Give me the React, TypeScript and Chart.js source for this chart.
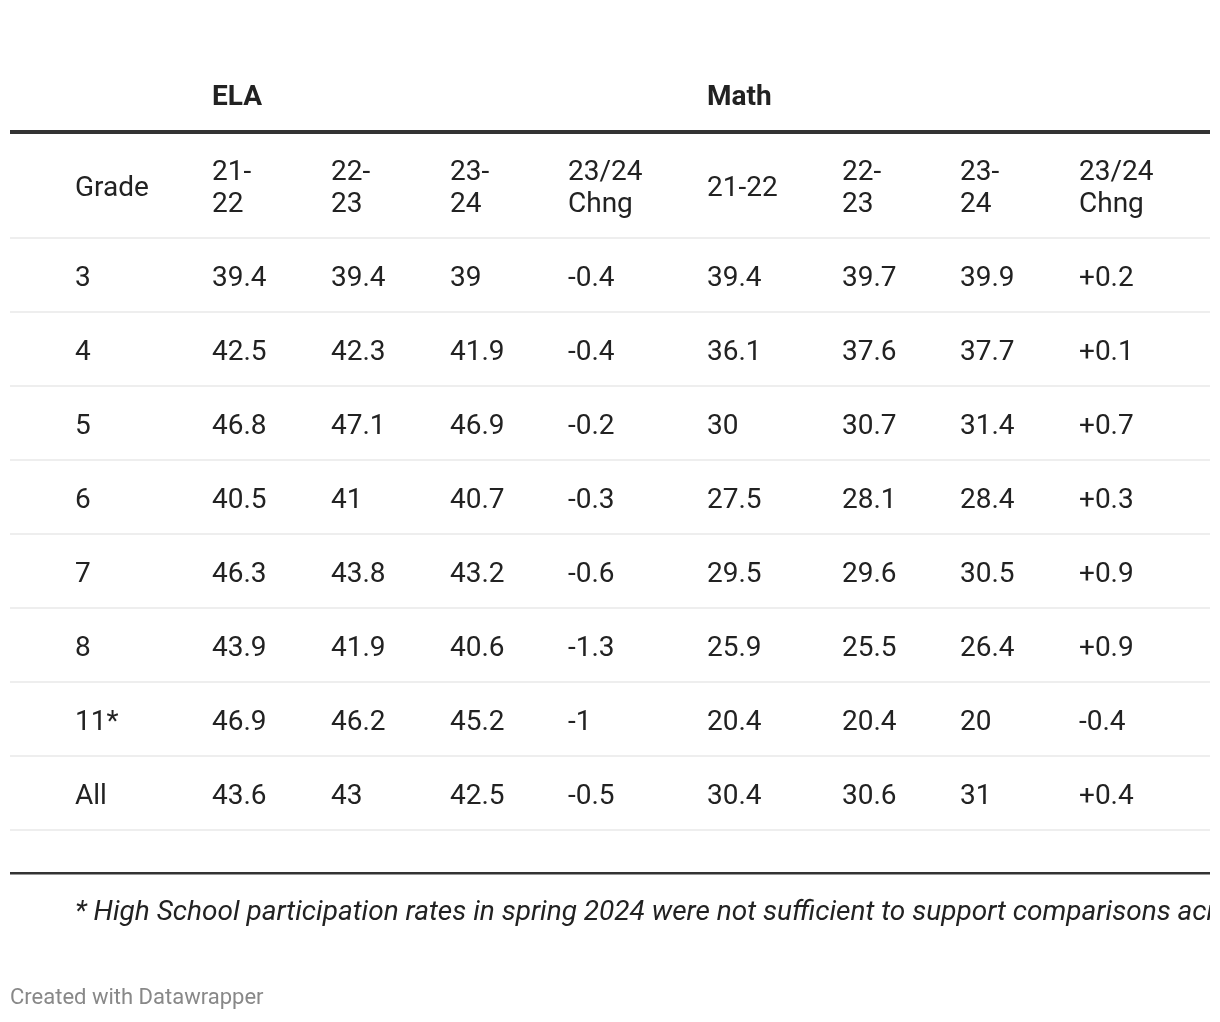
import React, { useEffect, useRef } from "react";
import { Chart, registerables } from "chart.js";

Chart.register(...registerables);

// ---- data ----
const grades = ["3", "4", "5", "6", "7", "8", "11*", "All"];
const ela2122 = [39.4, 42.5, 46.8, 40.5, 46.3, 43.9, 46.9, 43.6];
const ela2223 = [39.4, 42.3, 47.1, 41, 43.8, 41.9, 46.2, 43];
const ela2324 = [39, 41.9, 46.9, 40.7, 43.2, 40.6, 45.2, 42.5];
const elaChange = [-0.4, -0.4, -0.2, -0.3, -0.6, -1.3, -1, -0.5];
const math2122 = [39.4, 36.1, 30, 27.5, 29.5, 25.9, 20.4, 30.4];
const math2223 = [39.7, 37.6, 30.7, 28.1, 29.6, 25.5, 20.4, 30.6];
const math2324 = [39.9, 37.7, 31.4, 28.4, 30.5, 26.4, 20, 31];
const mathChange = [0.2, 0.1, 0.7, 0.3, 0.9, 0.9, -0.4, 0.4];

const columnHeaders: string[][] = [
  ["Grade"],
  ["21-", "22"],
  ["22-", "23"],
  ["23-", "24"],
  ["23/24", "Chng"],
  ["21-22"],
  ["22-", "23"],
  ["23-", "24"],
  ["23/24", "Chng"],
];
const groupTitles = [
  { text: "ELA", col: 1 },
  { text: "Math", col: 5 },
];
const footnote =
  "* High School participation rates in spring 2024 were not sufficient to support comparisons across years.";
const credit = "Created with Datawrapper";

// ---- layout (scale units along the x axis, 0..1200) ----
const COL_X = [65, 202, 321, 440, 558, 697, 832, 950, 1069];

const fmt = (v: number) => String(v);
const fmtChange = (v: number) => (v > 0 ? "+" + v : String(v));

const columns: string[][] = [
  grades,
  ela2122.map(fmt),
  ela2223.map(fmt),
  ela2324.map(fmt),
  elaChange.map(fmtChange),
  math2122.map(fmt),
  math2223.map(fmt),
  math2324.map(fmt),
  mathChange.map(fmtChange),
];

const TEXT = "#222222";
const FONT = "Roboto, 'Noto Sans', sans-serif";

const tablePlugin = {
  id: "tablePlugin",
  afterDatasetsDraw(chart: any) {
    const ctx: CanvasRenderingContext2D = chart.ctx;
    const { top, bottom, left, right } = chart.chartArea;
    const xs = chart.scales.x;
    ctx.save();
    // cells
    ctx.fillStyle = TEXT;
    ctx.font = `400 28px ${FONT}`;
    ctx.textAlign = "left";
    ctx.textBaseline = "alphabetic";
    chart.data.datasets.forEach((ds: any, di: number) => {
      const meta = chart.getDatasetMeta(di);
      meta.data.forEach((el: any, i: number) => {
        ctx.fillText(ds.cellText[i], el.x, el.y + 11);
      });
    });
    // header row
    const headerCenter = top - 53;
    columnHeaders.forEach((lines, c) => {
      const x = xs.getPixelForValue(COL_X[c]);
      const n = lines.length;
      lines.forEach((t, k) => {
        const y = headerCenter + 11 + (k - (n - 1) / 2) * 32;
        ctx.fillText(t, x, y);
      });
    });
    // group titles
    ctx.font = `700 28px ${FONT}`;
    groupTitles.forEach((g) => {
      ctx.fillText(g.text, xs.getPixelForValue(COL_X[g.col]), top - 133);
    });
    // thick rules
    ctx.fillStyle = "#333333";
    ctx.fillRect(left, top - 108, right - left, 4);
    ctx.fillRect(left, bottom + 42, right - left, 2.5);
    // footnote
    ctx.save();
    ctx.beginPath();
    ctx.rect(0, bottom + 50, right, 60);
    ctx.clip();
    ctx.fillStyle = TEXT;
    ctx.font = `italic 400 28px ${FONT}`;
    ctx.fillText(footnote, xs.getPixelForValue(COL_X[0]), bottom + 90);
    ctx.restore();
    // credit
    ctx.fillStyle = "#888888";
    ctx.font = `400 22px ${FONT}`;
    ctx.fillText(credit, left, bottom + 174);
    ctx.restore();
  },
};

export default function App() {
  const ref = useRef<HTMLCanvasElement | null>(null);
  useEffect(() => {
    document.body.style.margin = "0";
    const canvas = ref.current;
    if (!canvas) return;
    const datasets = columns.map((col, c) => ({
      label: columnHeaders[c].join(" "),
      data: col.map((_, i) => ({ x: COL_X[c], y: i + 0.5 })),
      cellText: col,
      pointRadius: 0,
      pointHoverRadius: 0,
      showLine: false,
    }));
    const chart = new Chart(canvas, {
      type: "scatter",
      data: { datasets: datasets as any },
      options: {
        animation: false,
        responsive: false,
        devicePixelRatio: 1,
        events: [],
        layout: { padding: { top: 238, bottom: 192, left: 10, right: 10 } },
        plugins: { legend: { display: false }, tooltip: { enabled: false } },
        scales: {
          x: { type: "linear", min: 0, max: 1200, display: false },
          y: {
            type: "linear",
            reverse: true,
            min: 0,
            max: grades.length,
            ticks: { display: false, stepSize: 1 },
            grid: { color: "#eeeeee", lineWidth: 2, drawTicks: false },
            border: { display: false },
            afterFit: (s: any) => {
              s.width = 0;
            },
          },
        },
      },
      plugins: [tablePlugin],
    });
    const fonts = (document as any).fonts;
    if (fonts && fonts.load) {
      Promise.all([
        fonts.load("28px Roboto"),
        fonts.load("bold 28px Roboto"),
        fonts.load("italic 28px Roboto"),
      ])
        .then(() => chart.draw())
        .catch(() => {});
    }
    return () => chart.destroy();
  }, []);
  return (
    <div style={{ width: 1220, height: 1022, background: "#ffffff" }}>
      <canvas ref={ref} width={1220} height={1022} style={{ display: "block" }} />
    </div>
  );
}
